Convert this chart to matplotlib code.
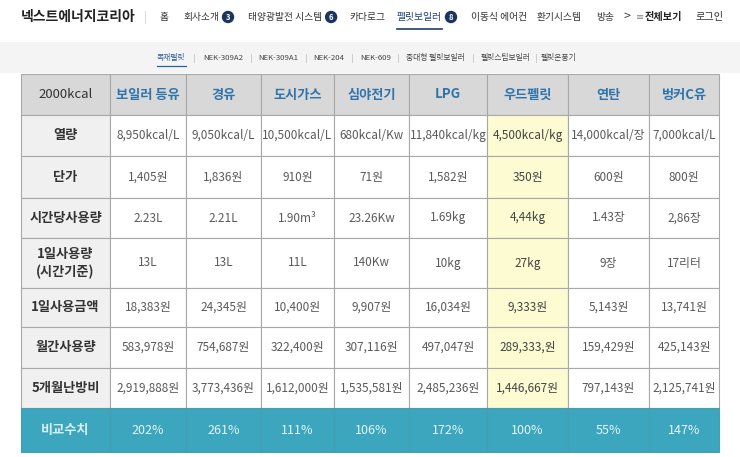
import matplotlib
matplotlib.use("Agg")
import matplotlib.pyplot as plt
from matplotlib.patches import Rectangle, Circle

plt.rcParams['font.family'] = ['Noto Sans CJK KR', 'DejaVu Sans']

# --- page chrome ---
brand = "넥스트에너지코리아"
nav_items = ["홈", "회사소개", "태양광발전 시스템", "카다로그", "펠릿보일러", "이동식 에어컨", "환기시스템", "방송"]
nav_badges = {"회사소개": "3", "태양광발전 시스템": "6", "펠릿보일러": "8"}
sub_items = ["목재펠릿", "NEK-309A2", "NEK-309A1", "NEK-204", "NEK-609", "중대형 펠릿보일러", "펠릿스팀보일러", "펠릿온풍기"]

# --- table data ---
headers = ["2000kcal", "보일러 등유", "경유", "도시가스", "심야전기", "LPG", "우드펠릿", "연탄", "벙커C유"]
row_labels = ["열량", "단가", "시간당사용량", "1일사용량\n(시간기준)", "1일사용금액", "월간사용량", "5개월난방비", "비교수치"]
heat = ["8,950kcal/L", "9,050kcal/L", "10,500kcal/L", "680kcal/Kw", "11,840kcal/kg", "4,500kcal/kg", "14,000kcal/장", "7,000kcal/L"]
unit_price = ["1,405원", "1,836원", "910원", "71원", "1,582원", "350원", "600원", "800원"]
hourly_use = ["2.23L", "2.21L", "1.90m³", "23.26Kw", "1.69kg", "4,44kg", "1.43장", "2,86장"]
daily_use = ["13L", "13L", "11L", "140Kw", "10kg", "27kg", "9장", "17리터"]
daily_cost = ["18,383원", "24,345원", "10,400원", "9,907원", "16,034원", "9,333원", "5,143원", "13,741원"]
monthly_cost = ["583,978원", "754,687원", "322,400원", "307,116원", "497,047원", "289,333,원", "159,429원", "425,143원"]
season_cost = ["2,919,888원", "3,773,436원", "1,612,000원", "1,535,581원", "2,485,236원", "1,446,667원", "797,143원", "2,125,741원"]
ratio = ["202%", "261%", "111%", "106%", "172%", "100%", "55%", "147%"]
rows = [heat, unit_price, hourly_use, daily_use, daily_cost, monthly_cost, season_cost, ratio]
highlight_col = headers.index("우드펠릿")

col_edges = [21, 110, 186, 261, 334, 409, 487, 568, 649, 719]
row_edges = [74, 115, 156, 198, 238, 288, 327, 368, 408, 452]

fig = plt.figure(figsize=(7.4, 4.57), dpi=100)
ax = fig.add_axes([0, 0, 1, 1])
ax.set_xlim(0, 740)
ax.set_ylim(457, 0)
ax.axis("off")

# top nav
ax.text(21, 17, brand, fontsize=10, fontweight="bold", color="#222", va="center", ha="left")
ax.plot([145, 145], [11, 23], color="#ddd", lw=0.8)
nav_x = [160, 183, 248, 349, 397, 471, 537, 596]
for name, x in zip(nav_items, nav_x):
    active = name == "펠릿보일러"
    t = ax.text(x, 17, name, fontsize=7, color="#1d3d73" if active else "#333", va="center", ha="left")
    fig.canvas.draw()
    bb = t.get_window_extent().transformed(ax.transData.inverted())
    x1 = bb.x1
    if active:
        ax.plot([x, x1], [29, 29], color="#1d3d73", lw=1.2)
    if name in nav_badges:
        cx = x1 + 9
        ax.add_patch(Circle((cx, 17), 5.5, color="#1d3461"))
        ax.text(cx, 17.5, nav_badges[name], fontsize=5.5, color="white", fontweight="bold", ha="center", va="center")
ax.text(627, 16, ">", fontsize=9, color="#444", ha="center", va="center")
ax.text(636, 17, "≡", fontsize=7, color="#888", ha="left", va="center", family="DejaVu Sans")
ax.text(645, 17, "전체보기", fontsize=7.3, fontweight="bold", color="#222", ha="left", va="center")
ax.text(696, 17, "로그인", fontsize=7.3, color="#333", ha="left", va="center")

# sub nav bar
ax.add_patch(Rectangle((0, 42), 740, 31, color="#f4f4f4", lw=0))
sub_x = [157, 203, 258, 313, 360, 406, 481, 541]
for i, (name, x) in enumerate(zip(sub_items, sub_x)):
    active = i == 0
    t = ax.text(x, 58, name, fontsize=5.6, color="#2b5d9a" if active else "#444", va="center", ha="left")
    fig.canvas.draw()
    bb = t.get_window_extent().transformed(ax.transData.inverted())
    if active:
        ax.plot([x, bb.x1], [66, 66], color="#2b5d9a", lw=0.9)
    if i < len(sub_items) - 1:
        sx = (bb.x1 + sub_x[i + 1]) / 2
        ax.plot([sx, sx], [54, 62], color="#ccc", lw=0.7)

# table cells
n_rows = len(row_edges) - 1
n_cols = len(col_edges) - 1
for r in range(n_rows):
    y0, y1 = row_edges[r], row_edges[r + 1]
    yc = (y0 + y1) / 2
    for c in range(n_cols):
        x0, x1 = col_edges[c], col_edges[c + 1]
        xc = (x0 + x1) / 2
        last = r == n_rows - 1
        if r == 0:
            bg = "#d8d8d8"
        elif last:
            bg = "#3ba6bd"
        elif c == 0:
            bg = "#f0f0f0"
        elif c == highlight_col:
            bg = "#fdfbd2"
        else:
            bg = "white"
        ax.add_patch(Rectangle((x0, y0), x1 - x0, y1 - y0, facecolor=bg,
                               edgecolor="#a8a8a8" if not last else "#4a9db0", lw=0.8))
        if r == 0:
            txt = headers[c]
            color = "#333" if c == 0 else "#2f73ac"
            ax.text(xc, yc, txt, fontsize=9.5, color=color, ha="center", va="center",
                    fontweight="bold" if c > 0 else "medium")
        elif c == 0:
            txt = row_labels[r - 1]
            color = "#d6eef4" if r - 1 == len(row_labels) - 1 else "#333"
            ax.text(xc, yc, txt, fontsize=9.5, color=color, ha="center", va="center",
                    fontweight="bold", linespacing=1.3)
        else:
            txt = rows[r - 1][c - 1]
            if r - 1 == len(rows) - 1:
                ax.text(xc, yc, txt, fontsize=9, color="#e6f6fa", ha="center", va="center")
            else:
                ax.text(xc, yc, txt, fontsize=8.5, color="#444" if c == highlight_col else "#5a5a5a",
                        ha="center", va="center")

fig.savefig("out.png", dpi=100, facecolor="white")
